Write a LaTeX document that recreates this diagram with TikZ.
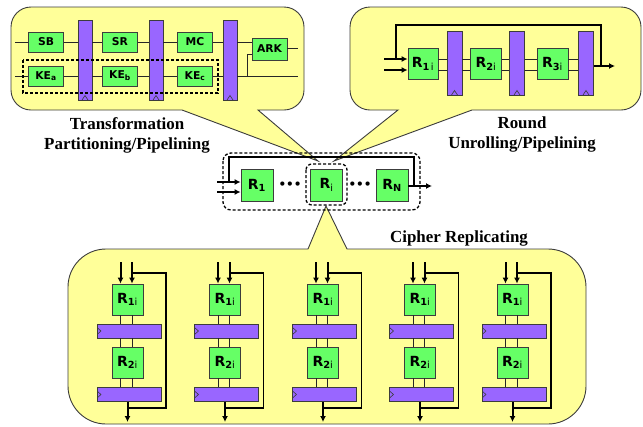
\documentclass[tikz,border=0pt]{standalone}
\usepackage{fontspec}
\setmainfont{Liberation Serif}
\newfontfamily\boxfont{DejaVu Sans}
\usetikzlibrary{arrows.meta}

\definecolor{calloutyellow}{RGB}{255,255,153}
\definecolor{opgreen}{RGB}{102,255,102}
\definecolor{regpurple}{RGB}{153,102,255}
\definecolor{edgegray}{RGB}{60,60,60}

\begin{document}
\begin{tikzpicture}[x=1bp,y=-1bp]
  \tikzset{callout/.style={draw=edgegray, fill=calloutyellow, line width=0.9bp}}
  \tikzset{opbox/.style={draw=edgegray, fill=opgreen, line width=0.8bp, inner sep=0pt,
      minimum width=35bp, minimum height=20bp,
      font=\boxfont\bfseries\fontsize{10.8}{12}\selectfont}}
  \tikzset{rbox/.style={opbox, minimum width=31bp, minimum height=31bp,
      font=\boxfont\bfseries\fontsize{14}{16}\selectfont}}
  \tikzset{vreg/.style={draw=edgegray, fill=regpurple, line width=0.8bp, inner sep=0pt,
      minimum width=14bp,
      path picture={\draw[line width=0.6bp] ([xshift=-3bp]path picture bounding box.south)
        -- ([yshift=4.5bp]path picture bounding box.south)
        -- ([xshift=3bp]path picture bounding box.south);}}}
  \tikzset{hreg/.style={draw=edgegray, fill=regpurple, line width=0.8bp, inner sep=0pt,
      minimum width=64bp, minimum height=14bp,
      path picture={\draw[line width=0.6bp] ([yshift=3.5bp]path picture bounding box.west)
        -- ([xshift=4bp]path picture bounding box.west)
        -- ([yshift=-3.5bp]path picture bounding box.west);}}}
  \tikzset{wire/.style={draw=black!85, line width=1bp}}
  \tikzset{feed/.style={draw=black, line width=1.2bp}}
  \tikzset{inarrow/.style={-{Latex[length=6bp,width=6bp]}, line width=2bp}}
  \tikzset{groupbox/.style={draw=black, line width=1.3bp, dash pattern=on 3bp off 2bp}}
  \tikzset{caption/.style={font=\bfseries\fontsize{17}{20}\selectfont, align=center, inner sep=0pt}}
  \tikzset{dotsnode/.style={font=\boxfont\bfseries\fontsize{12}{14}\selectfont, inner sep=0pt}}

  \useasboundingbox (0,0) rectangle (643,426);

  % the three callouts
  \draw[callout] (182,110) -- (318,161) -- (258,110) -- (280,110) [rounded corners=20bp]
    -- (304,110) -- (304,7) -- (11,7) -- (11,110) -- (100,110) [sharp corners] -- cycle;
  \draw[callout] (472,110) -- (334,161) -- (398,110) -- (380,110) [rounded corners=20bp]
    -- (350,110) -- (350,7) -- (641,7) -- (641,110) -- (550,110) [sharp corners] -- cycle;
  \draw[callout] (308,249) -- (326,206) -- (347,249) -- (400,249) [rounded corners=38bp]
    -- (586,249) -- (586,424) -- (68,424) -- (68,249) -- (200,249) [sharp corners] -- cycle;

  % transformation partitioning
  \node[opbox] (sb) at (46,42) {SB};
  \node[opbox] (sr) at (120,42) {SR};
  \node[opbox] (mc) at (195,42) {MC};
  \node[opbox, minimum height=22bp] (ark) at (269.5,49) {ARK};
  \node[opbox] (kea) at (46,76) {KE\textsubscript{a}};
  \node[opbox] (keb) at (120,76) {KE\textsubscript{b}};
  \node[opbox] (kec) at (195,76) {KE\textsubscript{c}};
  \node[vreg, minimum height=80bp] (tra) at (85,60) {};
  \node[vreg, minimum height=80bp] (trb) at (156,60) {};
  \node[vreg, minimum height=80bp] (trc) at (230,60) {};

  \coordinate (tin) at (15,42);
  \coordinate (kin) at (15,76);
  \coordinate (tout) at (298,48);
  \coordinate (kout) at (298,76);
  \coordinate (ktap) at (247,76);
  \draw[wire] (tin) -- (sb);
  \draw[wire] (sb) -- (sb -| tra.west);
  \draw[wire] (tra.east |- sr) -- (sr);
  \draw[wire] (sr) -- (sr -| trb.west);
  \draw[wire] (trb.east |- mc) -- (mc);
  \draw[wire] (mc) -- (mc -| trc.west);
  \draw[wire] (trc.east |- mc) -- (mc -| ark.west);
  \draw[wire] (ark.east |- tout) -- (tout);
  \draw[wire] (kin) -- (kea);
  \draw[wire] (kea) -- (kea -| tra.west);
  \draw[wire] (tra.east |- keb) -- (keb);
  \draw[wire] (keb) -- (keb -| trb.west);
  \draw[wire] (trb.east |- kec) -- (kec);
  \draw[wire] (kec) -- (kec -| trc.west);
  \draw[wire] (trc.east |- kec) -- (kout);
  \draw[wire] (ktap) |- ([yshift=-5bp]ark.west);
  \draw[groupbox] (23,60) rectangle (218,93);

  \node[caption, anchor=north] (tplabel) at (127,117) {Transformation\\Partitioning/Pipelining};

  % round unrolling
  \node[rbox, minimum width=30bp] (u1) at (423,64) {R\textsubscript{1\,\mdseries i}};
  \node[vreg, minimum height=64bp, minimum width=15bp] (ura) at (454.5,63) {};
  \node[rbox] (u2) at (486,64) {R\textsubscript{2\mdseries i}};
  \node[vreg, minimum height=64bp, minimum width=15bp] (urb) at (517,63) {};
  \node[rbox] (u3) at (552.5,64) {R\textsubscript{3\mdseries i}};
  \node[vreg, minimum height=64bp, minimum width=15bp] (urc) at (586,63) {};

  \coordinate (uin1) at (384,59);
  \coordinate (uin2) at (384,70);
  \coordinate (uout) at (615,66);
  \coordinate (utap) at (601,66);
  \coordinate (ujoin) at (396,59);
  \draw[inarrow] (uin1) -- (uin1 -| u1.west);
  \draw[inarrow] (uin2) -- (uin2 -| u1.west);
  \foreach \a/\b in {u1/ura, ura/u2, u2/urb, urb/u3, u3/urc}
    \draw[wire] (\a.east |- uin1) -- (\b.west |- uin1)
                (\a.east |- uin2) -- (\b.west |- uin2);
  \draw[inarrow] (urc.east |- uout) -- (uout);
  \draw[feed] (utap) -- ++(0,-41) -| (ujoin);

  \node[caption, anchor=north] (rulabel) at (522,117) {Round\\Unrolling/Pipelining};

  % full cipher
  \node[rbox, minimum size=32bp] (c1) at (257,185) {R\textsubscript{1}};
  \node[dotsnode] (cdots1) at (290,185) {\textbullet\textbullet\textbullet};
  \node[rbox, minimum size=32bp] (ci) at (326.5,185) {R\textsubscript{\mdseries i}};
  \node[dotsnode] (cdots2) at (360,185) {\textbullet\textbullet\textbullet};
  \node[rbox, minimum size=32bp] (cn) at (392,185) {R\textsubscript{N}};
  \draw[groupbox, rounded corners=8bp] (223,153) rectangle (420,210);
  \draw[groupbox, rounded corners=6bp] (306,164) rectangle (347,205);

  \coordinate (cin1) at (217,182);
  \coordinate (cin2) at (217,192);
  \coordinate (cout) at (432,186);
  \coordinate (ctap) at (414,186);
  \coordinate (cjoin) at (229,182);
  \draw[inarrow] (cin1) -- (cin1 -| c1.west);
  \draw[inarrow] (cin2) -- (cin2 -| c1.west);
  \draw[inarrow] (cn.east |- cout) -- (cout);
  \draw[feed] (ctap) -- ++(0,-29) -| (cjoin);

  % cipher replicating
  \node[caption, anchor=base] (crlabel) at (459,242) {Cipher Replicating};

  \foreach \cx [count=\k] in {127.5,225,323,420,512.5} {
    \node[rbox] (a\k) at (\cx,299.5) {R\textsubscript{1\mdseries i}};
    \node[hreg] (ra\k) at (\cx+1.5,331) {};
    \node[rbox] (b\k) at (\cx,362.5) {R\textsubscript{2\mdseries i}};
    \node[hreg] (rb\k) at (\cx+1.5,394.5) {};
    \coordinate (ina\k) at (\cx-7,262);
    \coordinate (inb\k) at (\cx+4.5,262);
    \coordinate (tap\k) at (\cx+4.5,273);
    \coordinate (back\k) at (\cx,408);
    \coordinate (out\k) at (\cx,422);
    \draw[inarrow] (ina\k) -- (ina\k |- a\k.north);
    \draw[inarrow] (inb\k) -- (inb\k |- a\k.north);
    \foreach \p in {ina\k, inb\k}
      \draw[wire] (\p |- a\k.south) -- (\p |- ra\k.north)
                  (\p |- ra\k.south) -- (\p |- b\k.north)
                  (\p |- b\k.south) -- (\p |- rb\k.north);
    \draw[inarrow] (rb\k.south -| out\k) -- (out\k);
    \draw[feed] (tap\k) -- ++(34,0) |- (back\k);
  }
\end{tikzpicture}
\end{document}
